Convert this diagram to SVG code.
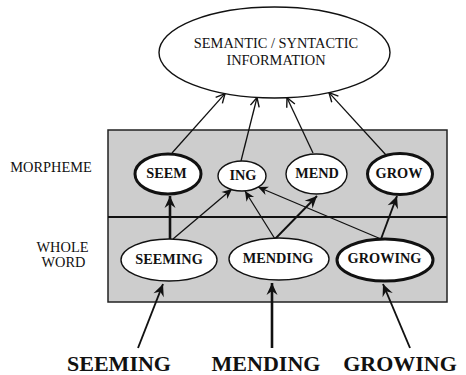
<svg xmlns="http://www.w3.org/2000/svg" width="466" height="375" viewBox="0 0 466 375">
  <style>
    text { font-family: "Liberation Serif", "Times New Roman", serif; fill: #111; }
    .lbl { font-size: 14.4px; }
    .nd { font-size: 14.3px; font-weight: bold; text-anchor: middle; }
    .big { font-size: 22px; font-weight: bold; text-anchor: middle; }
    .ell { fill: #fff; stroke: #111; stroke-width: 1.4; }
    .ell.strong { stroke-width: 3; }
    .thin { stroke: #111; stroke-width: 1.3; fill: none; }
    .mid { stroke: #111; stroke-width: 1.9; fill: none; }
    .thick { stroke: #111; stroke-width: 2.6; fill: none; }
  </style>
  <defs>
    <marker id="open" markerUnits="userSpaceOnUse" markerWidth="14" markerHeight="12" viewBox="-11 -6 13 12" refX="0" refY="0" orient="auto">
      <path d="M-9,-4.5 L0,0 L-9,4.5" fill="none" stroke="#111" stroke-width="1.4"/>
    </marker>
    <marker id="head" markerUnits="userSpaceOnUse" markerWidth="14" markerHeight="12" viewBox="-11 -6 13 12" refX="0" refY="0" orient="auto">
      <path d="M0,0 L-10,-4.5 L-7,0 L-10,4.5 Z" fill="#111"/>
    </marker>
    <marker id="headL" markerUnits="userSpaceOnUse" markerWidth="16" markerHeight="14" viewBox="-13 -7 15 14" refX="0" refY="0" orient="auto">
      <path d="M0,0 L-12,-5.5 L-8,0 L-12,5.5 Z" fill="#111"/>
    </marker>
  </defs>

  <!-- layer panel -->
  <g id="panel">
    <rect x="108" y="130" width="339" height="172" fill="#cdcdcd" stroke="#222" stroke-width="1.5"/>
    <line x1="108" y1="217" x2="447" y2="217" stroke="#111" stroke-width="2"/>
  </g>

  <!-- row labels -->
  <g id="labels">
    <text class="lbl" x="51" y="172" text-anchor="middle">MORPHEME</text>
    <text class="lbl" x="62.5" y="252" text-anchor="middle">WHOLE</text>
    <text class="lbl" x="63.5" y="267" text-anchor="middle">WORD</text>
  </g>

  <!-- connectors -->
  <g id="connectors">
    <!-- morphemes to semantic / syntactic information -->
    <line class="thin" x1="172" y1="153" x2="225" y2="93.6" marker-end="url(#open)"/>
    <line class="thin" x1="241" y1="161" x2="257" y2="97.5" marker-end="url(#open)"/>
    <line class="thin" x1="313" y1="153" x2="287" y2="97.7" marker-end="url(#open)"/>
    <line class="thin" x1="386" y1="155" x2="329" y2="92.6" marker-end="url(#open)"/>
    <!-- whole words to morphemes -->
    <line class="thick" x1="170" y1="239" x2="170" y2="196" marker-end="url(#headL)"/>
    <line class="thin" x1="173" y1="239" x2="232" y2="189" marker-end="url(#head)"/>
    <line class="thin" x1="275" y1="239" x2="245" y2="191" marker-end="url(#head)"/>
    <line class="mid" x1="275" y1="239" x2="317" y2="196" marker-end="url(#headL)"/>
    <line class="thin" x1="381" y1="239" x2="258" y2="187" marker-end="url(#head)"/>
    <line class="mid" x1="381" y1="239" x2="397" y2="196" marker-end="url(#headL)"/>
    <!-- input words to whole-word units -->
    <line class="mid" x1="138" y1="348" x2="163" y2="284" marker-end="url(#headL)"/>
    <line class="thick" x1="272" y1="348" x2="272" y2="283" marker-end="url(#headL)"/>
    <line class="mid" x1="410" y1="348" x2="383" y2="284" marker-end="url(#headL)"/>
  </g>

  <g id="info">
    <ellipse class="ell" cx="274.5" cy="52.5" rx="115.5" ry="45.5" stroke-width="1.5"/>
    <text class="lbl" x="276" y="48" text-anchor="middle">SEMANTIC / SYNTACTIC</text>
    <text class="lbl" x="276" y="65" text-anchor="middle">INFORMATION</text>
  </g>

  <g id="seem">
    <ellipse class="ell strong" cx="168" cy="174" rx="33" ry="20"/>
    <text class="nd" x="166.5" y="178">SEEM</text>
  </g>
  <g id="ing">
    <ellipse class="ell" cx="242" cy="176" rx="24" ry="15"/>
    <text class="nd" x="243" y="180">ING</text>
  </g>
  <g id="mend">
    <ellipse class="ell" cx="316.5" cy="174" rx="30.5" ry="20"/>
    <text class="nd" x="317" y="178">MEND</text>
  </g>
  <g id="grow">
    <ellipse class="ell strong" cx="400" cy="174" rx="32.5" ry="20.5"/>
    <text class="nd" x="399" y="178">GROW</text>
  </g>

  <g id="seeming">
    <ellipse class="ell" cx="169" cy="260" rx="48" ry="21"/>
    <text class="nd" x="169" y="264">SEEMING</text>
  </g>
  <g id="mending">
    <ellipse class="ell" cx="279" cy="259" rx="50" ry="21"/>
    <text class="nd" x="278" y="263">MENDING</text>
  </g>
  <g id="growing">
    <ellipse class="ell strong" cx="385" cy="260" rx="48" ry="21"/>
    <text class="nd" x="384.5" y="263">GROWING</text>
  </g>

  <!-- input words -->
  <g id="inputs">
    <text class="big" x="119" y="371">SEEMING</text>
    <text class="big" x="266" y="371">MENDING</text>
    <text class="big" x="400" y="371">GROWING</text>
  </g>
</svg>
